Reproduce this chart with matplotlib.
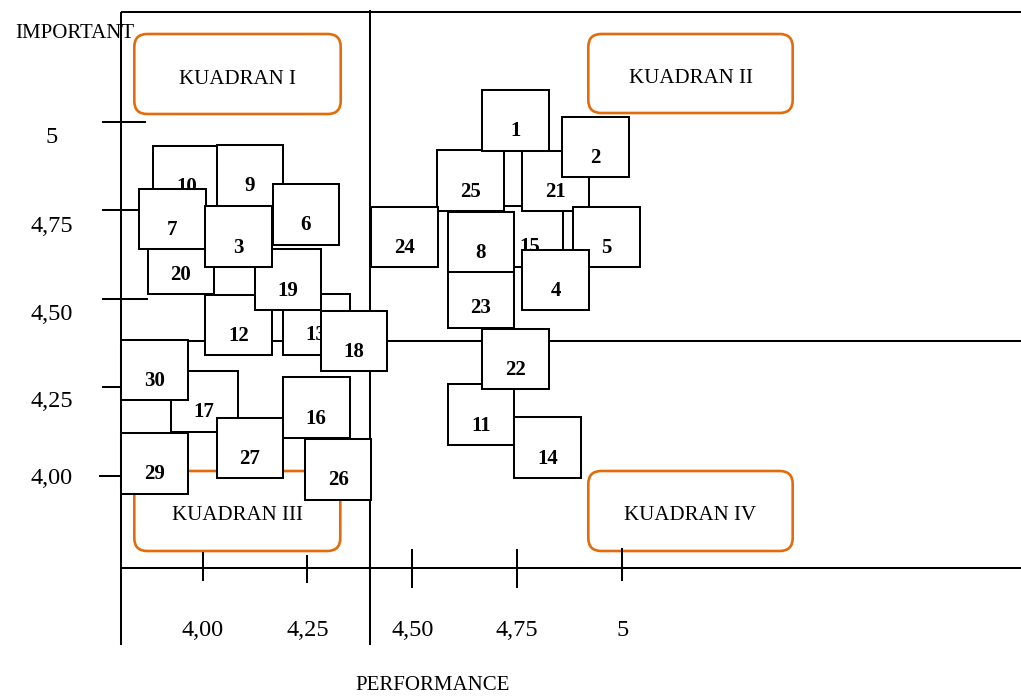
import matplotlib
matplotlib.use('Agg')
import matplotlib.pyplot as plt
from matplotlib.patches import Rectangle, FancyBboxPatch
from matplotlib import transforms

# ---------------- data (listed in the order the boxes are painted) ----------------
items = [10, 9, 6, 20, 7, 12, 13, 19, 3, 18, 17, 30, 16, 27, 29, 26,
         15, 25, 21, 1, 2, 5, 23, 8, 4, 24, 11, 22, 14]
performance = [3.962, 4.113, 4.246, 3.948, 3.928, 4.086, 4.271, 4.203, 4.086, 4.361,
               4.004, 3.886, 4.271, 4.113, 3.886, 4.323,
               4.780, 4.638, 4.841, 4.746, 4.936, 4.962, 4.663, 4.663, 4.841, 4.481,
               4.663, 4.746, 4.822]
importance = [4.847, 4.849, 4.739, 4.599, 4.726, 4.426, 4.428, 4.554, 4.676, 4.381,
              4.210, 4.299, 4.192, 4.078, 4.035, 4.018,
              4.677, 4.834, 4.833, 5.005, 4.929, 4.675, 4.504, 4.661, 4.553, 4.675,
              4.172, 4.330, 4.079]
mean_performance = 4.40
mean_importance = 4.38

x_ticks = [4.00, 4.25, 4.50, 4.75, 5.00]
x_tick_labels = ['4,00', '4,25', '4,50', '4,75', '5']
y_ticks = [5.00, 4.75, 4.50, 4.25, 4.00]
y_tick_labels = ['5', '4,75', '4,50', '4,25', '4,00']
quadrant_names = ['KUADRAN I', 'KUADRAN II', 'KUADRAN III', 'KUADRAN IV']
x_title = 'PERFORMANCE'
y_title = 'IMPORTANT'

# ---------------- style ----------------
SERIF = ['Liberation Serif', 'DejaVu Serif']
ORANGE = '#E36C0A'
LW = 1.45
BOX_W, BOX_H = 0.1585, 0.1717

fig = plt.figure(figsize=(10.21, 6.96), dpi=100)
bg = fig.add_axes([0, 0, 1, 1])
bg.set_xlim(0, 1021)
bg.set_ylim(696, 0)
bg.axis('off')

ax = fig.add_axes([0, 0, 1, 1])
ax.set_xlim(3.5172, 5.9504)
ax.set_ylim(3.3767, 5.345)
ax.axis('off')
ax.patch.set_visible(False)

bx = transforms.blended_transform_factory(ax.transData, bg.transData)  # x data, y pixel
by = transforms.blended_transform_factory(bg.transData, ax.transData)  # x pixel, y data

# frame lines
bg.plot([121, 121], [12, 645], color='black', lw=LW, solid_capstyle='butt')
bg.plot([121, 1021], [12, 12], color='black', lw=LW, solid_capstyle='butt')
bg.plot([121, 1021], [568, 568], color='black', lw=LW, solid_capstyle='butt')

# quadrant boxes
quad_boxes = [(134.3, 34, 206.4, 80), (588.3, 34, 204.4, 79),
              (134.3, 471, 206.0, 80), (588.3, 471, 204.4, 80)]
for (x0, y0, w, h), name in zip(quad_boxes, quadrant_names):
    bg.add_patch(FancyBboxPatch((x0, y0), w, h,
                                boxstyle='round,pad=0,rounding_size=13',
                                fc='white', ec=ORANGE, lw=1.9))
    bg.text(x0 + w / 2, y0 + h / 2 + 5, name, ha='center', va='center',
            fontsize=15, family=SERIF)

# axis titles
bg.text(15, 33, y_title, ha='left', va='center', fontsize=15, family=SERIF)
bg.text(433, 685, x_title, ha='center', va='center', fontsize=15, family=SERIF)

# quadrant dividers (at the means)
ax.plot([mean_performance, mean_performance], [10, 645], transform=bx,
        color='black', lw=LW, zorder=1, solid_capstyle='butt')
ax.plot([121, 1021], [mean_importance, mean_importance], transform=by,
        color='black', lw=LW, zorder=1, solid_capstyle='butt')

# x ticks
x_tick_spans = [(553, 580), (556, 582), (550, 587), (550, 587), (549, 580)]
for v, lbl, (t0, t1) in zip(x_ticks, x_tick_labels, x_tick_spans):
    ax.plot([v, v], [t0, t1], transform=bx, color='black', lw=LW, zorder=1)
    ax.text(v, 630, lbl, transform=bx, ha='center', va='center',
            fontsize=17.5, family=SERIF)

# y ticks
y_tick_spans = [(103, 145), (103, 138), (103, 147), (103, 121), (100, 121)]
y_label_offsets = [16, 16, 16, 14, 3]
for v, lbl, (t0, t1), off in zip(y_ticks, y_tick_labels, y_tick_spans, y_label_offsets):
    ax.plot([t0, t1], [v, v], transform=by, color='black', lw=LW, zorder=1)
    ax.annotate(lbl, xy=(52, v), xycoords=by, xytext=(0, -off),
                textcoords='offset pixels', ha='center', va='center',
                fontsize=17.5, family=SERIF)

# attribute boxes
for k, (n, px, iy) in enumerate(zip(items, performance, importance)):
    z = 3 + k
    ax.add_patch(Rectangle((px - BOX_W / 2, iy - BOX_H / 2), BOX_W, BOX_H,
                           fc='white', ec='black', lw=LW, zorder=z))
    ax.annotate(str(n), xy=(px, iy), xytext=(0, -11), textcoords='offset pixels',
                ha='center', va='center', fontsize=15, fontweight='bold',
                family=SERIF, zorder=z + 0.5)

fig.savefig('out.png', dpi=100)
